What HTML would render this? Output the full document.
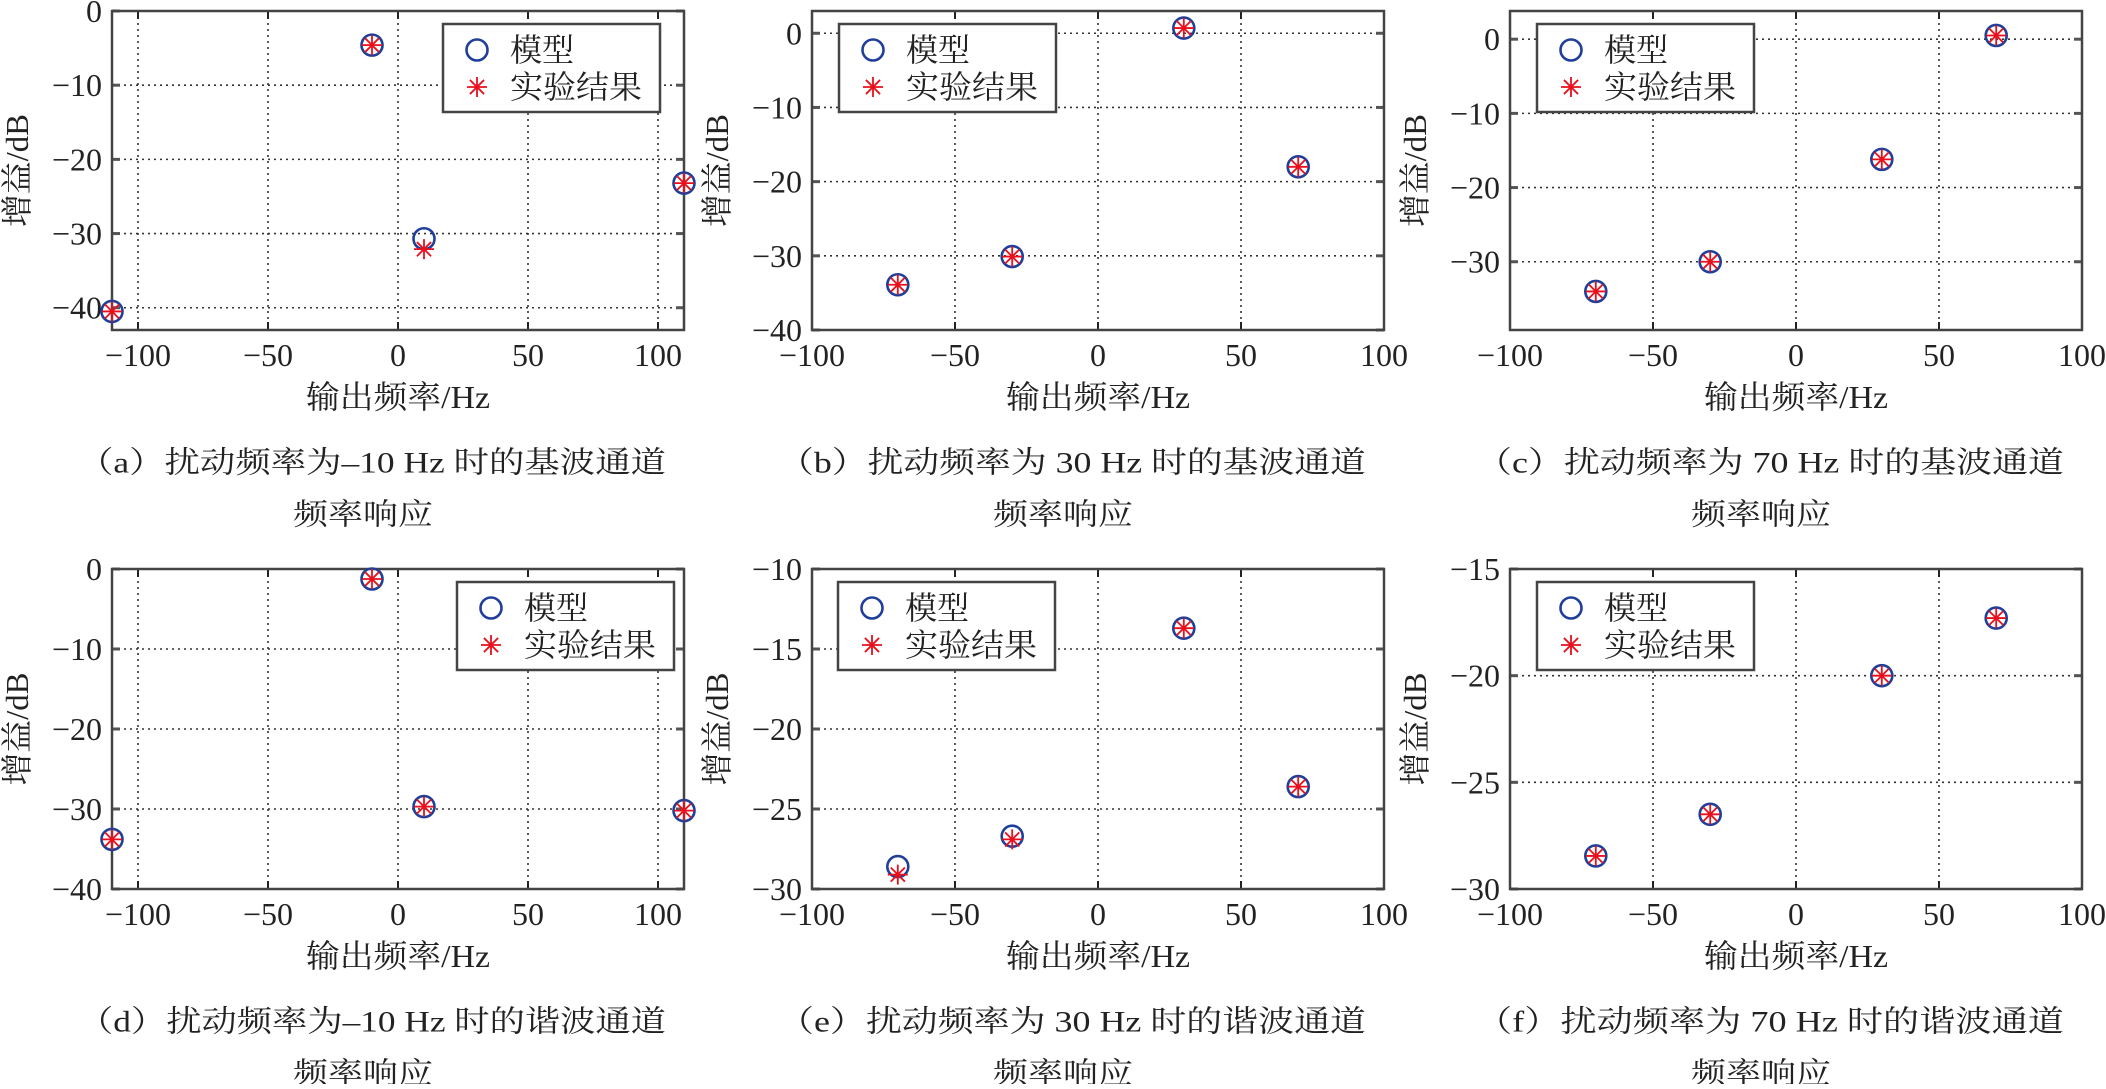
<!DOCTYPE html>
<html><head><meta charset="utf-8">
<style>
html,body{margin:0;padding:0;background:#fff;}
svg text{font-family:"Liberation Serif","Noto Serif CJK SC",serif;fill:#222;}
</style></head>
<body>
<svg id="s" xmlns="http://www.w3.org/2000/svg" width="2106" height="1084" viewBox="0 0 2106 1084"></svg>
<script>
const S=document.getElementById('s');
let h='';
function T(x,y,t,o){o=o||{};h+=`<text x="${x}" y="${y}" font-family="Liberation Serif, Noto Serif CJK SC, serif" font-size="${o.fs||32}" text-anchor="${o.a||'middle'}" dominant-baseline="central"${o.len?` textLength="${o.len}" lengthAdjust="spacingAndGlyphs"`:''}${o.tr?` transform="${o.tr}"`:''}>${t}</text>`;}
function circ(x,y){h+=`<circle cx="${x}" cy="${y}" r="10.5" fill="none" stroke="#1f3f9a" stroke-width="2.6"/>`;}
function star(x,y){const r=10;let d='';for(let i=0;i<4;i++){const a=i*Math.PI/4,dx=r*Math.sin(a),dy=r*Math.cos(a);d+=`M${x-dx} ${y-dy}L${x+dx} ${y+dy}`;}h+=`<path d="${d}" stroke="#e8101c" stroke-width="1.8" fill="none"/>`;}
function fmt(v){return v<0?'−'+(-v):''+v;}
function plot(p){
 const L=p.L,R=p.L+572,Tp=p.T,B=p.B;
 const X=v=>L+(v-p.x0)/(p.x1-p.x0)*(R-L);
 const Y=v=>Tp+(p.y1-v)/(p.y1-p.y0)*(B-Tp);
 p.xt.forEach(v=>{const x=X(v);if(x>L+2&&x<R-2)h+=`<line x1="${x}" y1="${Tp}" x2="${x}" y2="${B}" stroke="#333" stroke-width="1.6" stroke-dasharray="2,4"/>`;});
 p.yt.forEach(v=>{const y=Y(v);if(y>Tp+2&&y<B-2)h+=`<line x1="${L}" y1="${y}" x2="${R}" y2="${y}" stroke="#333" stroke-width="1.6" stroke-dasharray="2,4"/>`;});
 p.xt.forEach(v=>{const x=X(v);h+=`<line x1="${x}" y1="${B}" x2="${x}" y2="${B-8}" stroke="#222" stroke-width="2"/><line x1="${x}" y1="${Tp}" x2="${x}" y2="${Tp+8}" stroke="#222" stroke-width="2"/>`;T(x,B+25,fmt(v));});
 p.yt.forEach(v=>{const y=Y(v);h+=`<line x1="${L}" y1="${y}" x2="${L+8}" y2="${y}" stroke="#555" stroke-width="3"/><line x1="${R}" y1="${y}" x2="${R-8}" y2="${y}" stroke="#555" stroke-width="3"/>`;T(L-10,y,fmt(v),{a:'end'});});
 h+=`<rect x="${L}" y="${Tp}" width="${R-L}" height="${B-Tp}" fill="none" stroke="#444" stroke-width="2.5"/>`;
 const lx=p.lg,ly=Tp+13;
 h+=`<rect x="${lx}" y="${ly}" width="217" height="88" fill="#fff" stroke="#444" stroke-width="2.5"/>`;
 circ(lx+34,ly+26);star(lx+34,ly+63);
 T(lx+67,ly+26,'模型',{a:'start'});T(lx+67,ly+63,'实验结果',{a:'start',len:132});
 p.d.forEach(q=>{circ(X(q[0]),Y(q[1]));star(X(q[0]),Y(q[2]!==undefined?q[2]:q[1]));});
 T((L+R)/2,B+67,'输出频率/Hz',{len:184});
 T(L-95,(Tp+B)/2,'增益/dB',{len:113,tr:`rotate(-90 ${L-95} ${(Tp+B)/2})`});
 T((L+R)/2-26,B+133,p.c1,{fs:30,len:588});
 T((L+R)/2-35,B+185,'频率响应',{fs:30,len:140});
}
const X110=[-100,-50,0,50,100],X100=[-100,-50,0,50,100];
plot({L:112,T:11,B:330,x0:-110,x1:110,y0:-43,y1:0,xt:X110,yt:[0,-10,-20,-30,-40],lg:443,
 d:[[-110,-40.5],[-10,-4.6],[10,-30.7,-32.1],[110,-23.2]],c1:'（a）扰动频率为–10 Hz 时的基波通道'});
plot({L:812,T:11,B:330,x0:-100,x1:100,y0:-40,y1:3,xt:X100,yt:[0,-10,-20,-30,-40],lg:839,
 d:[[-70,-33.9],[-30,-30.1],[30,0.7],[70,-18]],c1:'（b）扰动频率为 30 Hz 时的基波通道'});
plot({L:1510,T:11,B:330,x0:-100,x1:100,y0:-39.2,y1:3.8,xt:X100,yt:[0,-10,-20,-30],lg:1537,
 d:[[-70,-34],[-30,-30],[30,-16.2],[70,0.5]],c1:'（c）扰动频率为 70 Hz 时的基波通道'});
plot({L:112,T:569,B:889,x0:-110,x1:110,y0:-40,y1:0,xt:X110,yt:[0,-10,-20,-30,-40],lg:457,
 d:[[-110,-33.8],[-10,-1.25],[10,-29.7],[110,-30.2]],c1:'（d）扰动频率为–10 Hz 时的谐波通道'});
plot({L:812,T:569,B:889,x0:-100,x1:100,y0:-30,y1:-10,xt:X100,yt:[-10,-15,-20,-25,-30],lg:838,
 d:[[-70,-28.6,-29.1],[-30,-26.7,-26.9],[30,-13.7],[70,-23.6]],c1:'（e）扰动频率为 30 Hz 时的谐波通道'});
plot({L:1510,T:569,B:889,x0:-100,x1:100,y0:-30,y1:-15,xt:X100,yt:[-15,-20,-25,-30],lg:1537,
 d:[[-70,-28.45],[-30,-26.5],[30,-20],[70,-17.3]],c1:'（f）扰动频率为 70 Hz 时的谐波通道'});
S.innerHTML=h;
</script>
</body></html>
